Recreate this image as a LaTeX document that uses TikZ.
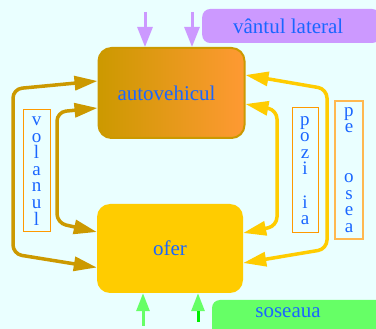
\documentclass[tikz,border=0pt]{standalone}
\usepackage{fontspec}
\setmainfont{LiberationSerif}[Extension=.ttf, UprightFont=*-Regular,
  BoldFont=*-Bold, ItalicFont=*-Italic, BoldItalicFont=*-BoldItalic]
\usetikzlibrary{arrows.meta,calc}

\definecolor{bg}{HTML}{EAFFFF}
\definecolor{gold}{HTML}{CC9900}
\definecolor{amber}{HTML}{FFCC00}
\definecolor{orng}{HTML}{FF9933}
\definecolor{lilac}{HTML}{CC99FF}
\definecolor{mint}{HTML}{66FF66}
\definecolor{brightgreen}{HTML}{00EE00}
\definecolor{txtblue}{HTML}{1A66FF}
\definecolor{frame}{HTML}{FF9900}
\definecolor{framelt}{HTML}{FFB850}

\begin{document}
\begin{tikzpicture}[x=1pt,y=-1pt,
  lbl/.style={text=txtblue, font=\rmfamily\fontsize{21}{25}\selectfont},
  block/.style={lbl, rounded corners=13pt, minimum width=146pt,
    minimum height=90pt, inner sep=0pt},
  banner/.style={lbl, rounded corners=8pt, inner sep=0pt},
  tag/.style={draw=frame, line width=1pt, text=txtblue,
    font=\rmfamily\fontsize{19}{16.6}\selectfont, align=center, inner sep=0pt},
  >={Triangle[length=23pt,width=14pt]},
  feed/.style={line width=3.5pt, rounded corners=9pt, <->},
  push/.style={line width=3pt, ->, >={Triangle[length=20pt,width=15pt]}},
]
\fill[bg] (0,0) rectangle (376,329);
\useasboundingbox (0,0) rectangle (376,329);

% outside influences
\node[banner, fill=lilac, minimum width=178pt, minimum height=34pt,
  anchor=west] (wind) at (202,26) {\hspace*{-6pt}vântul lateral};
\fill[mint, rounded corners=8pt] (212,300) rectangle (390,350);
\node[lbl] (road) at (288,313) {soseaua};

% the two blocks
\node[block, left color=gold, right color=orng, draw=gold, line width=2pt]
  (auto) at (171.5,93) {\hspace*{-10pt}autovehicul};
\node[block, fill=amber, minimum height=89pt] (ofer) at (170,248.5) {ofer};

% labels of the loops
\node[tag, minimum width=27pt, minimum height=122pt] (volan) at (36.5,171)
  {v\\o\\l\\a\\n\\u\\l};
\node[tag, minimum width=26pt, minimum height=125pt] (pozitia) at (305,170.5)
  {p\\o\\z\\i\\\mbox{}\\i\\a};
\node[tag, draw=framelt, line width=1.5pt, minimum width=28pt,
  minimum height=138pt] (sosea) at (349,170)
  {p\\e\\\mbox{}\\\mbox{}\\o\\s\\e\\a};

% steering loops on the left
\draw[feed, gold] ($(auto.west)+(0,-12)$) -- (13,89) -- (13,254)
  -- ($(ofer.west)+(0,19)$);
\draw[feed, gold] ($(auto.west)+(0,15)$) -- (57,112) -- (57,223)
  -- ($(ofer.west)+(0,-16.5)$);

% position loops on the right
\draw[feed, amber] ($(auto.east)+(0,-18)$) -- (327,89) -- (327,249)
  -- ($(ofer.east)+(0,14.5)$);
\draw[feed, amber] ($(auto.east)+(0,11)$) -- (277,110) -- (277,226)
  -- ($(ofer.east)+(0,-15.5)$);

% side wind
\coordinate (w1) at (145,12);
\coordinate (w2) at (192,12);
\draw[push, lilac] (w1) -- (w1 |- auto.north);
\draw[push, lilac] (w2) -- (w2 |- auto.north);

% road input
\coordinate (g1) at (143,326);
\coordinate (g2) at (198,322);
\draw[push, mint, >={Triangle[length=18pt,width=13pt]}] (g1) -- (g1 |- ofer.south);
\draw[push, mint, >={Triangle[length=18pt,width=13pt]}] (g2) -- (g2 |- ofer.south);
\draw[brightgreen, line width=3pt] (g2) -- ++(0,-11);
\end{tikzpicture}
\end{document}
